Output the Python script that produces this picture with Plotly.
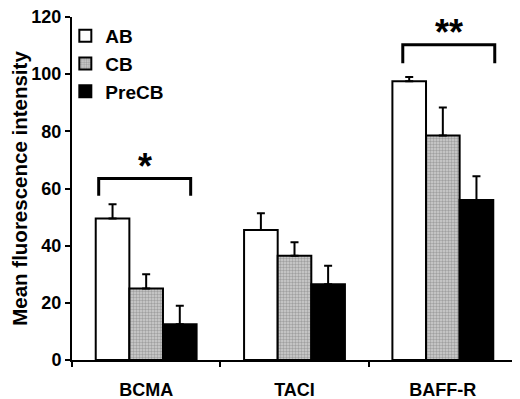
import plotly.graph_objects as go

categories = ["BCMA", "TACI", "BAFF-R"]
series_names = ["AB", "CB", "PreCB"]
ab_values = [49.5, 45.5, 97.5]
ab_errors = [5.0, 5.8, 1.5]
cb_values = [25.0, 36.5, 78.5]
cb_errors = [5.0, 4.7, 9.8]
precb_values = [12.5, 26.5, 56.0]
precb_errors = [6.5, 6.5, 8.3]

# significance brackets (category-index units)
bracket_x0 = [-0.32, 1.73]
bracket_x1 = [0.30, 2.35]
bracket_top = [63.5, 110.3]
bracket_leg = [57.5, 103.8]
bracket_labels = ["*", "**"]

y_ticks = [0, 20, 40, 60, 80, 100, 120]

FONT = "Liberation Sans, Arial, sans-serif"

fig = go.Figure()
line = dict(color="black", width=2)
err = lambda e: dict(type="data", array=e, arrayminus=[0] * len(e), symmetric=False,
                     color="black", thickness=2, width=4)

fig.add_trace(go.Bar(name=series_names[0], x=categories, y=ab_values, error_y=err(ab_errors),
                     marker=dict(color="white", line=line)))
fig.add_trace(go.Bar(name=series_names[1], x=categories, y=cb_values, error_y=err(cb_errors),
                     marker=dict(color="#c8c8c8", line=line,
                                 pattern=dict(shape=".", fgcolor="#707070", bgcolor="#d0d0d0",
                                              size=3, solidity=0.5))))
fig.add_trace(go.Bar(name=series_names[2], x=categories, y=precb_values, error_y=err(precb_errors),
                     marker=dict(color="black", line=line)))

for x0, x1, yt, yl, lab in zip(bracket_x0, bracket_x1, bracket_top, bracket_leg, bracket_labels):
    fig.add_shape(type="path", xref="x", yref="y",
                  path=f"M {x0} {yl} L {x0} {yt} L {x1} {yt} L {x1} {yl}",
                  line=dict(color="black", width=3))
    fig.add_annotation(x=(x0 + x1) / 2, y=yt, xref="x", yref="y", text=lab, showarrow=False,
                       yanchor="bottom", yshift=-10,
                       font=dict(family=FONT, size=36, color="black", weight="bold"))

# page body has an 8px margin, so the figure is 8px smaller than the window
fig.update_layout(
    width=512, height=391,
    margin=dict(l=64, r=3, t=9, b=39),
    paper_bgcolor="white", plot_bgcolor="white",
    barmode="group", bargap=0.32, bargroupgap=0,
    font=dict(family=FONT, color="black", weight="bold"),
    showlegend=True,
    legend=dict(x=-0.015, y=1.0, xanchor="left", yanchor="top",
                font=dict(family=FONT, size=19, color="black", weight="bold"),
                bgcolor="rgba(0,0,0,0)", traceorder="normal", itemwidth=30),
    xaxis=dict(showline=True, linecolor="black", linewidth=2, ticks="outside",
               tickson="boundaries", ticklen=5, tickwidth=2, tickcolor="black",
               tickfont=dict(family=FONT, size=18, weight="bold"),
               ticklabelstandoff=12, showgrid=False, zeroline=False, automargin=False),
    yaxis=dict(range=[0, 120], tickvals=y_ticks, showline=True, linecolor="black",
               linewidth=2, ticks="outside", ticklen=5, tickwidth=2, tickcolor="black",
               tickfont=dict(family=FONT, size=18, weight="bold"),
               ticklabeloverflow="allow",
               showgrid=False, zeroline=False, automargin=False,
               title=dict(text="Mean fluorescence intensity",
                          font=dict(family=FONT, size=20.5, weight="bold"), standoff=4)),
)

fig.write_html("out.html")
